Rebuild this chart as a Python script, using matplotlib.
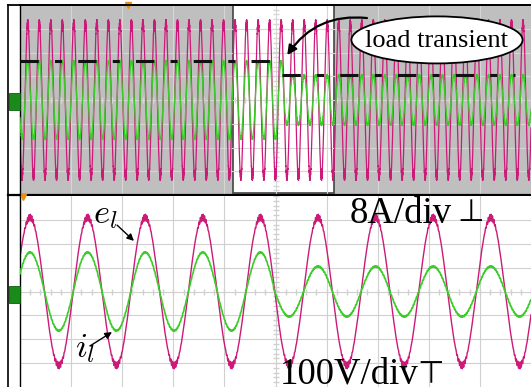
import matplotlib
matplotlib.use('Agg')
import matplotlib.pyplot as plt
import numpy as np
from matplotlib.patches import Ellipse, Rectangle
from matplotlib.lines import Line2D

plt.rcParams['mathtext.fontset'] = 'cm'

# scope readings, in screen divisions (10 x 8 grid)
period_div = 1.127          # one cycle of e_l in the zoomed view
first_peak_div = 0.196      # first e_l peak in the zoomed view
zoom_factor = 5             # overview is 5x slower than zoom
window_start_div = 4.17     # zoom window position in overview
window_width_div = 1.97
v_amp = [3.25, 3.1]         # e_l amplitude: overview, zoom
i_amp_levels = [1.64, 1.05] # i_l amplitude before / after load step
step_div = 4.96             # load step instant (zoomed view)
ripple_amp = 0.14
ripple_harmonic = 41

# dashed envelope of i_l in the overview (start, end, level)
env_start = [0.0, 5.13]
env_end = [5.09, 9.69]
env_level = [1.64, 1.05]

MAGENTA = '#cc1a78'
GREEN = '#3ccc2a'


def waves(tb, va):
    th = 2 * np.pi * (tb - first_peak_div) / period_div
    c = np.cos(th)
    v = va * c + ripple_amp * np.abs(c) ** 6 * np.sin(ripple_harmonic * th)
    ia = np.where(tb < step_div, i_amp_levels[0], i_amp_levels[1])
    i = ia * c + 0.03 * np.sin(37 * th)
    return v, i


W, H = 531, 387
fig = plt.figure(figsize=(W / 100, H / 100), dpi=100)
ax1 = fig.add_axes([20 / W, 192 / H, 511 / W, 190 / H])
ax2 = fig.add_axes([20 / W, 0, 511 / W, 191 / H])

for ax in (ax1, ax2):
    ax.set_xlim(0, 10)
    ax.set_ylim(-4, 4)
    ax.set_xticks([])
    ax.set_yticks([])
    ax.spines['right'].set_visible(False)
    ax.spines['left'].set_linewidth(1.0)

ax1.set_facecolor('#bfbfbf')
ax1.spines['top'].set_linewidth(1.3)
ax1.spines['bottom'].set_linewidth(1.6)
ax2.spines['top'].set_visible(False)
ax2.spines['bottom'].set_visible(False)

# zoom window
ax1.add_patch(Rectangle((window_start_div, -3.92), window_width_div, 7.92,
                        facecolor='white', edgecolor='#444444', lw=1.2, zorder=0.5))

# grids
for ax, gc in ((ax1, '#d6d6d6'), (ax2, '#d0d0d0')):
    for k in range(1, 10):
        ax.axvline(k, color=gc, lw=0.8, zorder=1)
    for k in range(-3, 4):
        ax.axhline(k, color=gc, lw=0.8, zorder=1)
    ticks = np.arange(0, 10.01, 0.2)
    ax.plot(ticks, np.zeros_like(ticks), '|', color=gc, ms=4, zorder=1)
    ticks_y = np.arange(-4, 4.01, 0.2)
    ax.plot(np.full_like(ticks_y, 5), ticks_y, '_', color=gc, ms=4, zorder=1)

# overview waveforms
t_top = np.linspace(0, 10, 30000)
v_top, i_top = waves((t_top - window_start_div) * zoom_factor, v_amp[0])
ax1.plot(t_top, v_top, color=MAGENTA, lw=0.9, zorder=2)
ax1.plot(t_top, i_top, color=GREEN, lw=0.9, zorder=3)

# envelope
for s, e, lvl in zip(env_start, env_end, env_level):
    ax1.plot([s, e], [lvl, lvl], color='#111111', lw=2.2,
             linestyle=(0, (6, 5.3, 2.3, 5.3)), zorder=4)

# zoomed waveforms
t_bot = np.linspace(0, 10, 20000)
v_bot, i_bot = waves(t_bot, v_amp[1])
ax2.plot(t_bot, v_bot, color=MAGENTA, lw=1.0, zorder=2)
ax2.plot(t_bot, i_bot, color=GREEN, lw=1.2, zorder=3)

# annotation bubble
ax1.add_patch(Ellipse((8.16, 2.53), 3.35, 1.98, facecolor='white',
                      edgecolor='black', lw=1.3, zorder=5))
ax1.text(8.16, 2.5, 'load transient', fontsize=19, family='Liberation Serif',
         ha='center', va='center', zorder=6)
ax1.annotate('', xy=(5.23, 1.89), xytext=(6.79, 3.45),
             arrowprops=dict(arrowstyle='-|>', connectionstyle='arc3,rad=0.3',
                             lw=1.6, color='black', mutation_scale=14,
                             shrinkA=0, shrinkB=0), zorder=6)

# labels on zoomed view
ax2.text(1.43, 2.87, r'$e_l$', fontsize=25, ha='left', va='baseline', zorder=6)
ax2.annotate('', xy=(2.23, 2.12), xytext=(1.90, 2.78),
             arrowprops=dict(arrowstyle='-|>', lw=1.0, color='black',
                             mutation_scale=10, shrinkA=0, shrinkB=0))
ax2.text(1.08, -2.73, r'$i_l$', fontsize=25, ha='left', va='baseline', zorder=6)
ax2.annotate('', xy=(1.80, -1.70), xytext=(1.37, -2.28),
             arrowprops=dict(arrowstyle='-|>', lw=1.0, color='black',
                             mutation_scale=10, shrinkA=0, shrinkB=0))

ax2.text(6.46, 2.87, '8A/div', fontsize=26.5, family='Liberation Serif',
         ha='left', va='baseline', zorder=6)
ax2.text(8.55, 2.95, '\u22a5', fontsize=22, family='DejaVu Sans',
         ha='left', va='baseline', zorder=6)
ax2.text(5.09, -3.84, '100V/div', fontsize=26.5, family='Liberation Serif',
         ha='left', va='baseline', zorder=6)
ax2.text(7.78, -3.84, '\u22a4', fontsize=22, family='DejaVu Sans',
         ha='left', va='baseline', zorder=6)

# channel markers
ax1.plot([2.11], [4.0], marker='v', color='#e8901a', ms=5, clip_on=False, zorder=7)
ax2.plot([0.05], [3.95], marker='v', color='#e8901a', ms=4, clip_on=False, zorder=7)
for yc in (101.5, 294):
    fig.add_artist(Rectangle((9 / W, (H - yc - 8.5) / H), 11 / W, 17 / H,
                             transform=fig.transFigure, facecolor='#1a8a1a',
                             edgecolor='#0d5d0d', lw=0.6))

# outer frame
fig.add_artist(Line2D([8 / W, 8 / W], [0, (H - 5) / H], color='black', lw=1.2))
fig.add_artist(Line2D([8 / W, 1], [(H - 5) / H, (H - 5) / H], color='black', lw=1.3))
fig.add_artist(Line2D([8 / W, 20 / W], [(H - 195) / H, (H - 195) / H], color='black', lw=1.6))

fig.savefig('out.png', dpi=100)
